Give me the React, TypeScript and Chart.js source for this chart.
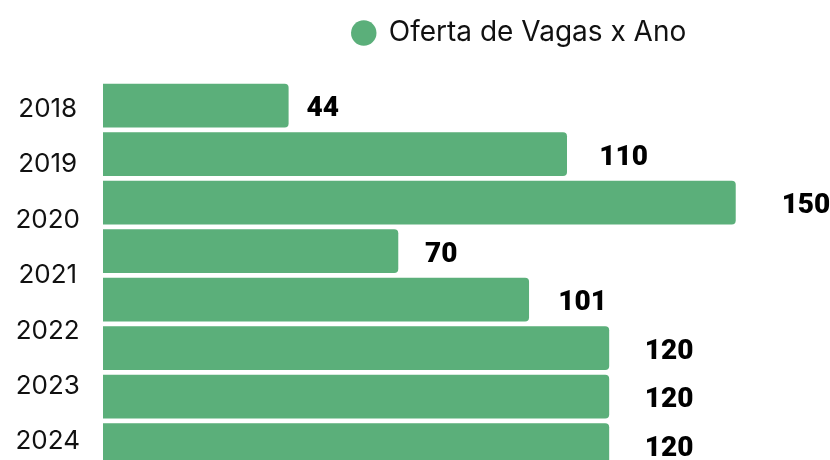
import React, { useEffect, useRef } from 'react';
import { Chart, registerables } from 'chart.js';

Chart.register(...registerables);

// ---- data ----
const years = ['2018', '2019', '2020', '2021', '2022', '2023', '2024'];
const barSlots = ['1', '2', '3', '4', '5', '6', '7', '8'];
const vagas = [44, 110, 150, 70, 101, 120, 120, 120];
const seriesLabel = 'Oferta de Vagas x Ano';

const FONT = 'Inter, "Noto Sans", sans-serif';
const VALUE_FONT = 'Roboto, Inter, sans-serif';
const GREEN = '#5BAF7A';

const valueLabels = {
  id: 'valueLabels',
  afterDatasetsDraw(chart: any) {
    const ctx = chart.ctx;
    const meta = chart.getDatasetMeta(0);
    const data = chart.data.datasets[0].data;
    ctx.save();
    ctx.font = `900 28px ${VALUE_FONT}`;
    ctx.fillStyle = '#000';
    ctx.textAlign = 'center';
    ctx.textBaseline = 'middle';
    meta.data.forEach((bar: any, i: number) => {
      const { x, y, base } = bar.getProps(['x', 'y', 'base'], true);
      const len = x - base;
      ctx.fillText(String(data[i]), x + len * 0.081 + 19, y + 3.5);
    });
    ctx.restore();
  },
};

export default function App() {
  const ref = useRef<HTMLCanvasElement>(null);
  useEffect(() => {
    if (!ref.current) return;
    const chart = new Chart(ref.current, {
      type: 'bar',
      data: {
        labels: barSlots,
        datasets: [
          {
            label: seriesLabel,
            data: vagas,
            backgroundColor: GREEN,
            borderWidth: 0,
            borderRadius: 4,
            barPercentage: 0.9,
            categoryPercentage: 1,
            yAxisID: 'yBars',
            xAxisID: 'x',
          },
        ],
      },
      options: {
        indexAxis: 'y',
        animation: false,
        responsive: true,
        maintainAspectRatio: false,
        layout: { padding: 0 },
        plugins: {
          legend: {
            position: 'top',
            labels: {
              usePointStyle: true,
              pointStyle: 'circle',
              boxWidth: 22,
              boxHeight: 18,
              padding: 11,
              color: '#111',
              font: { family: FONT, size: 28 },
            },
          },
          tooltip: { enabled: false },
        },
        scales: {
          x: {
            type: 'linear',
            position: 'top',
            min: 0,
            max: 220,
            ticks: { display: false },
            grid: { display: false, drawTicks: false },
            border: { display: false },
            afterFit(s: any) {
              s.height = 24.3;
            },
          },
          y: {
            type: 'category',
            labels: years,
            position: 'left',
            offset: true,
            grid: { display: false, drawTicks: true, tickLength: 23 },
            border: { display: false },
            ticks: {
              crossAlign: 'center',
              padding: 0,
              color: '#111',
              font: { family: FONT, size: 26 },
            },
            afterFit(s: any) {
              s.width = 95;
            },
          },
          yBars: {
            type: 'category',
            position: 'left',
            display: false,
            offset: true,
            grid: { offset: true },
          },
        },
      } as any,
      plugins: [valueLabels],
    });
    return () => chart.destroy();
  }, []);

  return (
    <div
      style={{
        position: 'fixed',
        left: 0,
        top: 0,
        width: 830,
        height: 460,
        overflow: 'hidden',
        background: '#fff',
      }}
    >
      <div style={{ position: 'absolute', left: 8, top: 8, width: 1023, height: 477 }}>
        <canvas ref={ref} />
      </div>
    </div>
  );
}
